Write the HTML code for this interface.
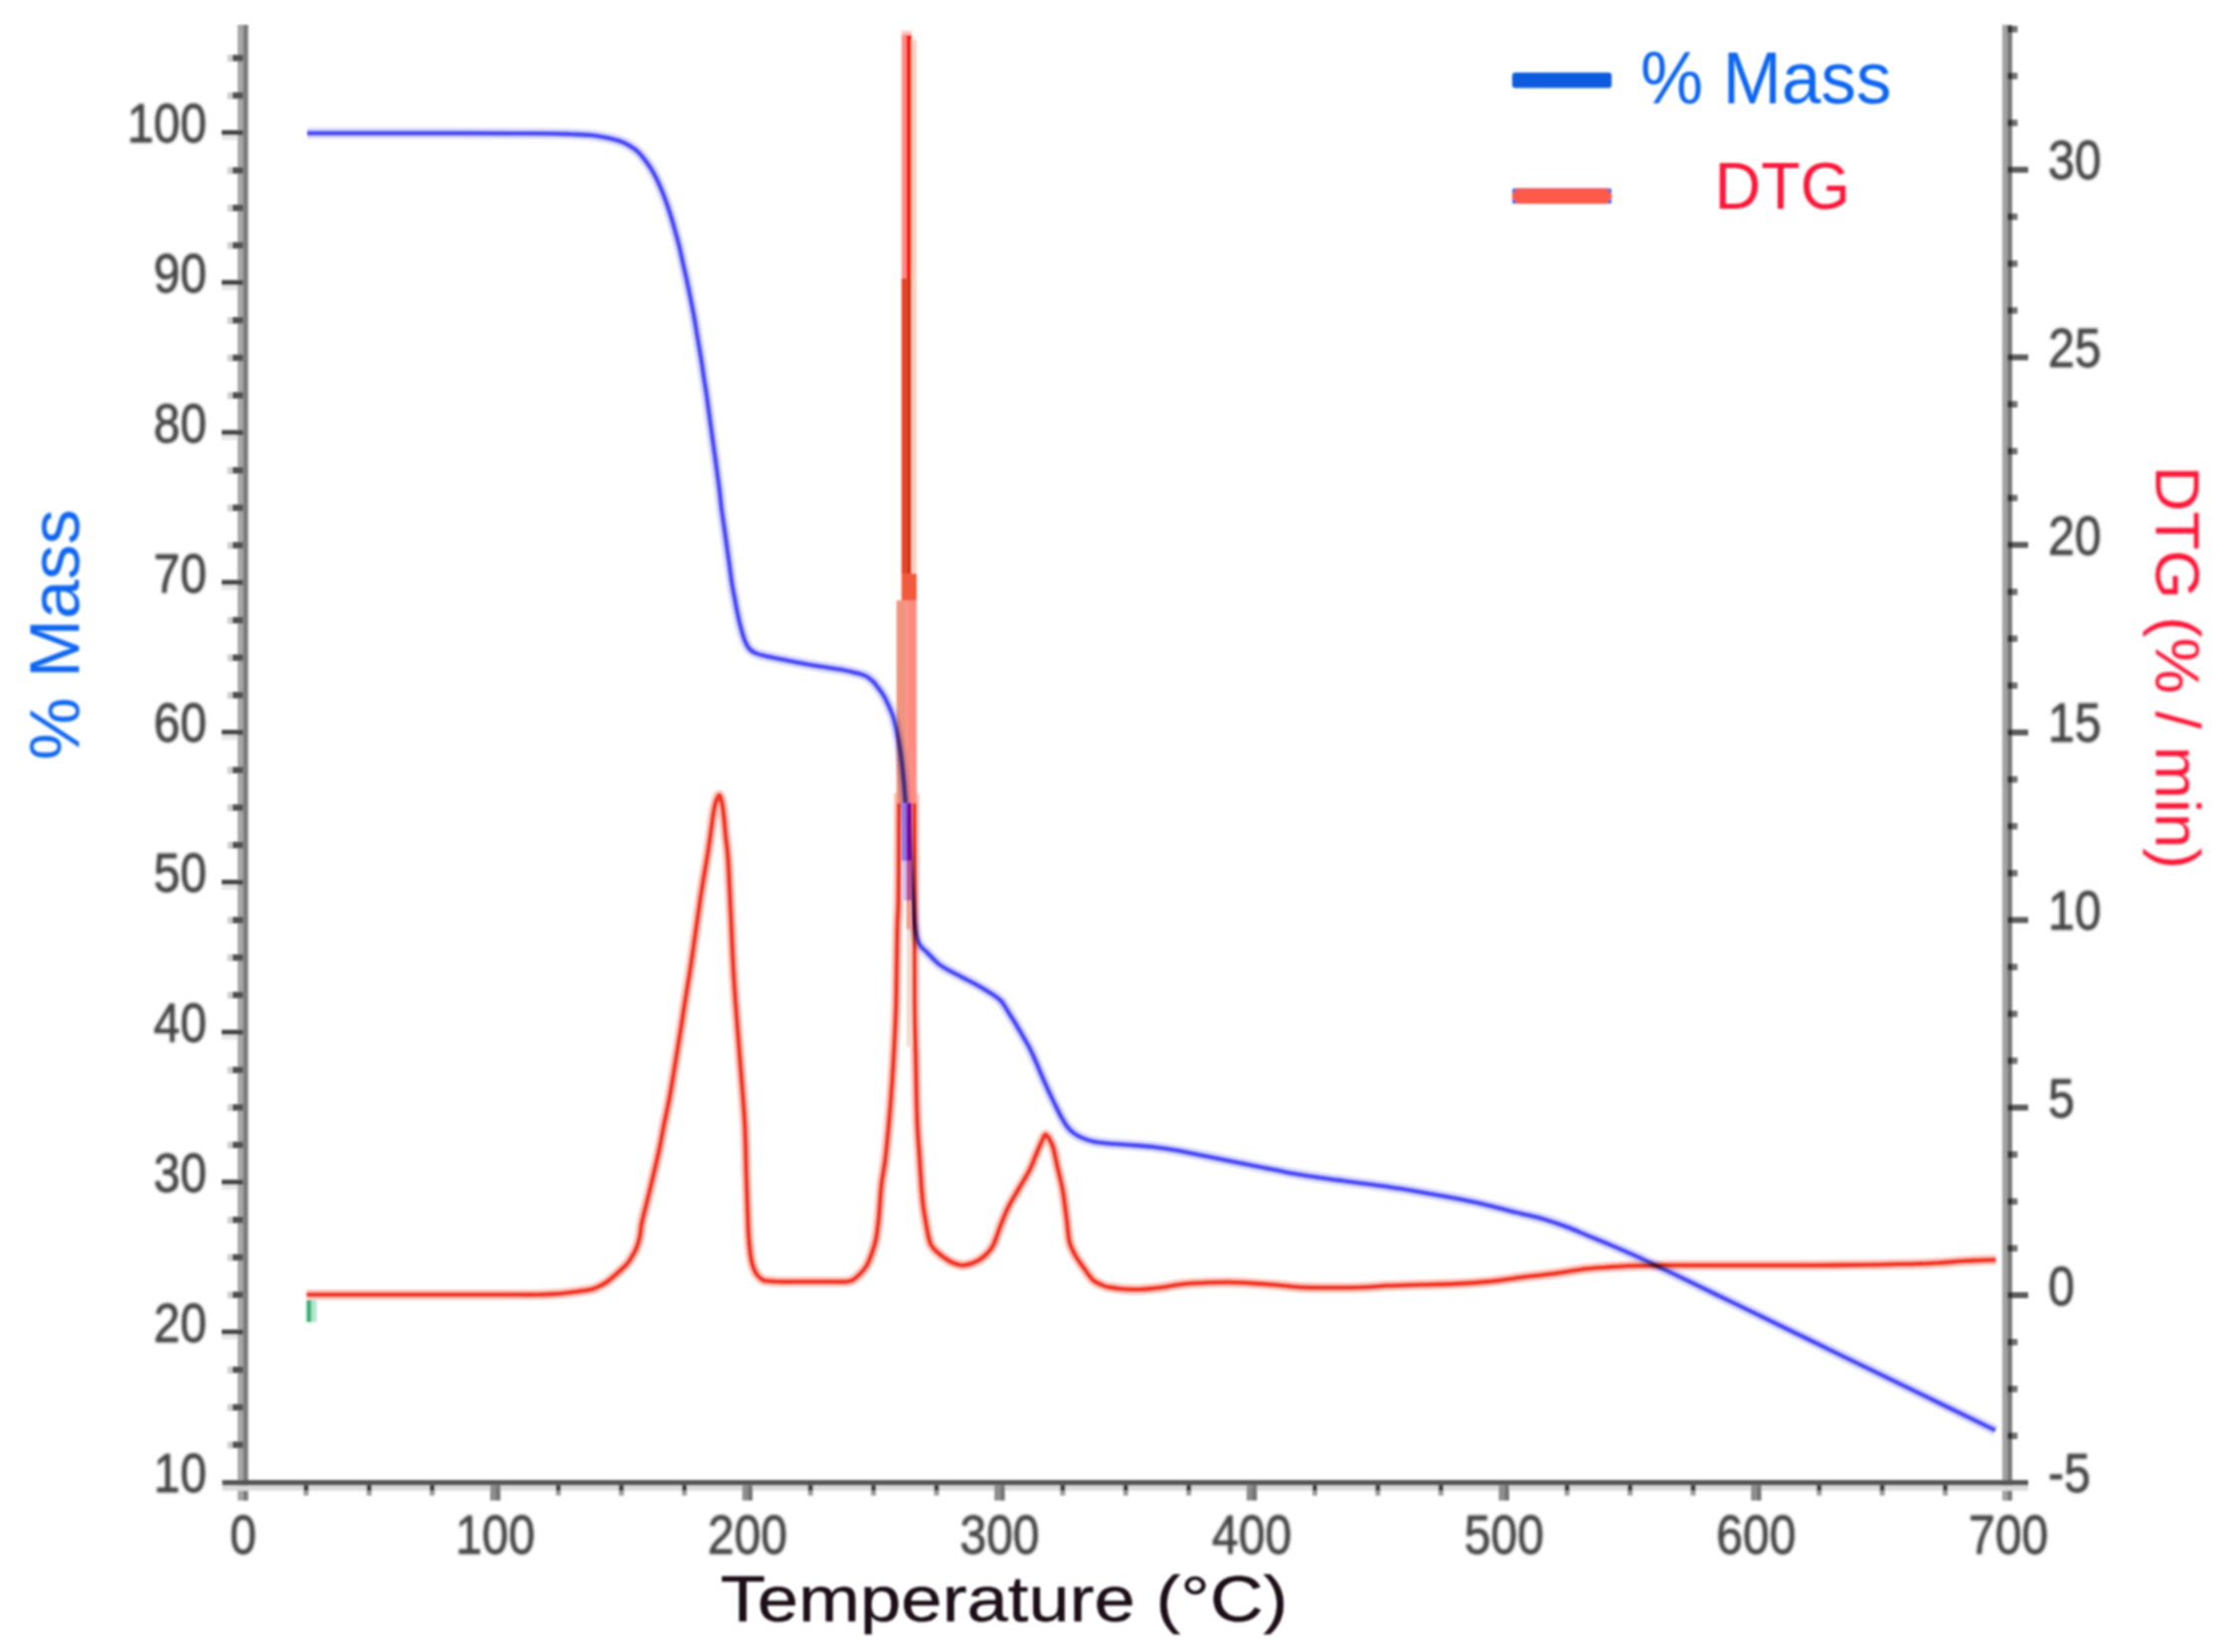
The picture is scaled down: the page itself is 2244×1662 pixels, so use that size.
<!DOCTYPE html>
<html lang="en"><head><meta charset="utf-8"><title>TGA / DTG curves</title>
<style>html,body{margin:0;padding:0;background:#fff;}body{width:2244px;height:1662px;overflow:hidden;}svg{display:block;}text{font-family:"Liberation Sans",sans-serif;}</style>
</head><body>
<svg width="2244" height="1662" viewBox="0 0 2244 1662">
<defs><filter id="b" x="-5%" y="-5%" width="110%" height="110%"><feGaussianBlur stdDeviation="1.6"/></filter><filter id="b2" x="-5%" y="-5%" width="110%" height="110%"><feGaussianBlur stdDeviation="1.2"/></filter><filter id="b3" x="-5%" y="-5%" width="110%" height="110%"><feGaussianBlur stdDeviation="0.9"/></filter></defs>
<rect width="2244" height="1662" fill="#fff"/>
<g filter="url(#b2)" fill="none" stroke-linejoin="round" stroke-linecap="butt">
<path d="M309.0,134.0 C329.2,134.0 391.5,133.9 430.0,134.0 C468.5,134.1 515.8,134.1 540.0,134.3 C564.2,134.5 565.9,134.7 575.0,135.0 C584.1,135.3 588.7,135.4 594.5,136.0 C600.3,136.6 605.1,137.5 610.0,138.5 C614.9,139.5 619.8,140.7 623.6,142.0 C627.4,143.3 630.0,144.7 633.0,146.5 C636.0,148.3 639.2,150.4 641.7,152.7 C644.2,154.9 645.9,157.3 648.0,160.0 C650.1,162.7 652.4,165.8 654.4,169.0 C656.4,172.2 658.2,175.4 660.0,179.0 C661.8,182.6 663.6,186.8 665.3,190.8 C667.0,194.8 668.5,198.8 670.0,203.0 C671.5,207.2 672.9,211.5 674.4,216.3 C675.9,221.1 677.5,226.6 679.0,232.0 C680.5,237.4 682.2,243.5 683.5,249.0 C684.8,254.5 685.8,259.6 687.0,265.0 C688.2,270.4 689.5,275.9 690.8,281.7 C692.0,287.5 693.3,293.9 694.5,300.0 C695.7,306.1 696.8,311.5 698.0,318.0 C699.2,324.5 700.3,331.7 701.5,339.0 C702.7,346.3 704.2,354.8 705.3,361.6 C706.4,368.4 707.1,373.9 708.0,380.0 C708.9,386.1 709.9,391.7 710.8,398.0 C711.7,404.3 712.6,411.3 713.5,418.0 C714.4,424.7 715.3,431.3 716.2,438.0 C717.1,444.7 718.1,451.3 719.0,458.0 C719.9,464.7 720.9,471.7 721.7,478.0 C722.5,484.3 723.3,490.0 724.0,496.0 C724.7,502.0 725.2,508.2 726.0,514.0 C726.8,519.8 727.7,525.5 728.5,531.0 C729.3,536.5 729.9,541.0 730.7,547.0 C731.5,553.0 732.6,560.3 733.5,567.0 C734.4,573.7 735.3,581.2 736.2,587.0 C737.1,592.8 738.1,597.2 739.0,602.0 C739.9,606.8 740.7,611.7 741.6,616.0 C742.5,620.3 743.4,624.3 744.3,628.0 C745.2,631.7 746.0,634.9 747.0,638.0 C748.0,641.1 748.8,643.9 750.0,646.5 C751.2,649.1 752.6,651.7 754.4,653.5 C756.2,655.3 758.4,656.4 761.0,657.5 C763.6,658.6 765.7,659.0 770.0,660.0 C774.3,661.0 781.2,662.3 787.0,663.5 C792.8,664.7 798.7,665.8 805.0,667.0 C811.3,668.2 818.3,669.4 825.0,670.5 C831.7,671.6 839.3,672.5 845.0,673.5 C850.7,674.5 854.7,675.4 859.0,676.5 C863.3,677.6 867.4,678.5 870.6,680.0 C873.8,681.5 875.9,683.5 878.0,685.5 C880.1,687.5 881.6,689.8 883.3,692.0 C885.0,694.2 886.5,696.2 888.0,698.5 C889.5,700.8 890.3,702.4 892.0,706.0 C893.7,709.6 896.3,715.0 898.0,720.0 C899.7,725.0 900.7,730.0 902.0,736.0 C903.3,742.0 904.5,748.7 905.6,756.0 C906.7,763.3 907.6,771.7 908.5,780.0 C909.4,788.3 910.0,797.5 910.7,806.0 C911.5,814.5 912.3,822.3 913.0,831.0 C913.7,839.7 914.4,849.5 915.0,858.0 C915.6,866.5 916.2,874.0 916.7,882.0 C917.2,890.0 917.8,898.5 918.3,906.0 C918.8,913.5 919.2,921.3 919.7,927.0 C920.2,932.7 920.8,936.5 921.5,940.0 C922.2,943.5 922.9,945.8 923.8,948.0 C924.7,950.2 925.7,951.4 927.0,953.0 C928.3,954.6 930.0,955.7 931.8,957.5 C933.6,959.3 935.8,961.8 938.0,964.0 C940.2,966.2 942.2,968.4 945.0,970.5 C947.8,972.6 951.4,974.5 955.0,976.5 C958.6,978.5 962.2,980.3 966.4,982.5 C970.6,984.7 975.6,987.1 980.0,989.5 C984.4,991.9 989.7,995.0 993.0,997.0 C996.3,999.0 997.8,999.9 1000.0,1001.5 C1002.2,1003.1 1004.6,1004.8 1006.4,1006.5 C1008.1,1008.2 1009.2,1010.0 1010.5,1012.0 C1011.8,1014.0 1012.9,1016.1 1014.4,1018.5 C1015.9,1020.9 1017.7,1023.6 1019.5,1026.5 C1021.3,1029.4 1023.2,1032.8 1025.0,1035.8 C1026.8,1038.8 1028.2,1041.4 1030.0,1044.5 C1031.8,1047.6 1033.9,1050.9 1035.7,1054.5 C1037.5,1058.1 1039.2,1062.0 1041.0,1066.0 C1042.8,1070.0 1044.5,1074.4 1046.3,1078.5 C1048.0,1082.6 1049.7,1086.5 1051.5,1090.5 C1053.3,1094.5 1055.2,1098.7 1057.0,1102.5 C1058.8,1106.3 1060.4,1109.8 1062.2,1113.4 C1064.0,1117.0 1065.7,1120.7 1067.6,1124.0 C1069.5,1127.3 1071.3,1130.8 1073.4,1133.5 C1075.5,1136.2 1077.4,1138.1 1080.0,1140.0 C1082.6,1141.9 1085.7,1143.6 1089.0,1145.0 C1092.3,1146.4 1095.5,1147.6 1100.0,1148.5 C1104.5,1149.4 1109.7,1149.9 1116.0,1150.5 C1122.3,1151.1 1130.5,1151.4 1138.0,1152.0 C1145.5,1152.6 1154.2,1153.2 1160.9,1154.0 C1167.6,1154.8 1172.4,1155.6 1178.0,1156.5 C1183.6,1157.4 1188.0,1158.2 1194.5,1159.5 C1201.0,1160.8 1209.5,1162.5 1217.0,1164.0 C1224.5,1165.5 1231.8,1167.0 1239.3,1168.5 C1246.8,1170.0 1254.5,1171.5 1262.0,1173.0 C1269.5,1174.5 1276.7,1175.9 1284.0,1177.3 C1291.3,1178.7 1298.5,1180.2 1306.0,1181.5 C1313.5,1182.8 1321.5,1183.9 1329.0,1185.0 C1336.5,1186.1 1343.5,1187.0 1351.0,1188.0 C1358.5,1189.0 1366.3,1190.0 1373.8,1191.0 C1381.3,1192.0 1388.5,1192.9 1396.0,1194.0 C1403.5,1195.1 1411.1,1196.2 1418.6,1197.5 C1426.1,1198.8 1433.5,1200.2 1441.0,1201.5 C1448.5,1202.8 1455.9,1204.1 1463.4,1205.5 C1470.9,1206.9 1478.5,1208.3 1486.0,1210.0 C1493.5,1211.7 1500.9,1213.7 1508.2,1215.5 C1515.5,1217.3 1522.5,1219.2 1530.0,1221.0 C1537.5,1222.8 1545.5,1224.4 1553.0,1226.6 C1560.5,1228.8 1567.7,1231.3 1575.0,1234.0 C1582.3,1236.7 1589.1,1239.8 1596.8,1243.0 C1604.5,1246.2 1612.9,1249.6 1621.0,1253.0 C1629.1,1256.4 1637.2,1259.9 1645.2,1263.5 C1653.2,1267.1 1660.9,1271.0 1669.0,1274.8 C1677.1,1278.6 1681.4,1280.6 1693.6,1286.5 C1705.8,1292.4 1725.8,1302.2 1742.0,1310.0 C1758.2,1317.8 1774.3,1325.7 1790.5,1333.6 C1806.7,1341.5 1822.8,1349.3 1838.9,1357.2 C1855.0,1365.1 1871.2,1373.0 1887.3,1380.8 C1903.4,1388.6 1919.6,1396.5 1935.7,1404.3 C1951.8,1412.1 1972.1,1422.0 1984.0,1427.8 C1995.9,1433.6 2003.2,1437.1 2007.0,1439.0" stroke="#9c9cff" stroke-width="11" opacity="0.38"/>
<path d="M309.0,134.0 C329.2,134.0 391.5,133.9 430.0,134.0 C468.5,134.1 515.8,134.1 540.0,134.3 C564.2,134.5 565.9,134.7 575.0,135.0 C584.1,135.3 588.7,135.4 594.5,136.0 C600.3,136.6 605.1,137.5 610.0,138.5 C614.9,139.5 619.8,140.7 623.6,142.0 C627.4,143.3 630.0,144.7 633.0,146.5 C636.0,148.3 639.2,150.4 641.7,152.7 C644.2,154.9 645.9,157.3 648.0,160.0 C650.1,162.7 652.4,165.8 654.4,169.0 C656.4,172.2 658.2,175.4 660.0,179.0 C661.8,182.6 663.6,186.8 665.3,190.8 C667.0,194.8 668.5,198.8 670.0,203.0 C671.5,207.2 672.9,211.5 674.4,216.3 C675.9,221.1 677.5,226.6 679.0,232.0 C680.5,237.4 682.2,243.5 683.5,249.0 C684.8,254.5 685.8,259.6 687.0,265.0 C688.2,270.4 689.5,275.9 690.8,281.7 C692.0,287.5 693.3,293.9 694.5,300.0 C695.7,306.1 696.8,311.5 698.0,318.0 C699.2,324.5 700.3,331.7 701.5,339.0 C702.7,346.3 704.2,354.8 705.3,361.6 C706.4,368.4 707.1,373.9 708.0,380.0 C708.9,386.1 709.9,391.7 710.8,398.0 C711.7,404.3 712.6,411.3 713.5,418.0 C714.4,424.7 715.3,431.3 716.2,438.0 C717.1,444.7 718.1,451.3 719.0,458.0 C719.9,464.7 720.9,471.7 721.7,478.0 C722.5,484.3 723.3,490.0 724.0,496.0 C724.7,502.0 725.2,508.2 726.0,514.0 C726.8,519.8 727.7,525.5 728.5,531.0 C729.3,536.5 729.9,541.0 730.7,547.0 C731.5,553.0 732.6,560.3 733.5,567.0 C734.4,573.7 735.3,581.2 736.2,587.0 C737.1,592.8 738.1,597.2 739.0,602.0 C739.9,606.8 740.7,611.7 741.6,616.0 C742.5,620.3 743.4,624.3 744.3,628.0 C745.2,631.7 746.0,634.9 747.0,638.0 C748.0,641.1 748.8,643.9 750.0,646.5 C751.2,649.1 752.6,651.7 754.4,653.5 C756.2,655.3 758.4,656.4 761.0,657.5 C763.6,658.6 765.7,659.0 770.0,660.0 C774.3,661.0 781.2,662.3 787.0,663.5 C792.8,664.7 798.7,665.8 805.0,667.0 C811.3,668.2 818.3,669.4 825.0,670.5 C831.7,671.6 839.3,672.5 845.0,673.5 C850.7,674.5 854.7,675.4 859.0,676.5 C863.3,677.6 867.4,678.5 870.6,680.0 C873.8,681.5 875.9,683.5 878.0,685.5 C880.1,687.5 881.6,689.8 883.3,692.0 C885.0,694.2 886.5,696.2 888.0,698.5 C889.5,700.8 890.3,702.4 892.0,706.0 C893.7,709.6 896.3,715.0 898.0,720.0 C899.7,725.0 900.7,730.0 902.0,736.0 C903.3,742.0 904.5,748.7 905.6,756.0 C906.7,763.3 907.6,771.7 908.5,780.0 C909.4,788.3 910.0,797.5 910.7,806.0 C911.5,814.5 912.3,822.3 913.0,831.0 C913.7,839.7 914.4,849.5 915.0,858.0 C915.6,866.5 916.2,874.0 916.7,882.0 C917.2,890.0 917.8,898.5 918.3,906.0 C918.8,913.5 919.2,921.3 919.7,927.0 C920.2,932.7 920.8,936.5 921.5,940.0 C922.2,943.5 922.9,945.8 923.8,948.0 C924.7,950.2 925.7,951.4 927.0,953.0 C928.3,954.6 930.0,955.7 931.8,957.5 C933.6,959.3 935.8,961.8 938.0,964.0 C940.2,966.2 942.2,968.4 945.0,970.5 C947.8,972.6 951.4,974.5 955.0,976.5 C958.6,978.5 962.2,980.3 966.4,982.5 C970.6,984.7 975.6,987.1 980.0,989.5 C984.4,991.9 989.7,995.0 993.0,997.0 C996.3,999.0 997.8,999.9 1000.0,1001.5 C1002.2,1003.1 1004.6,1004.8 1006.4,1006.5 C1008.1,1008.2 1009.2,1010.0 1010.5,1012.0 C1011.8,1014.0 1012.9,1016.1 1014.4,1018.5 C1015.9,1020.9 1017.7,1023.6 1019.5,1026.5 C1021.3,1029.4 1023.2,1032.8 1025.0,1035.8 C1026.8,1038.8 1028.2,1041.4 1030.0,1044.5 C1031.8,1047.6 1033.9,1050.9 1035.7,1054.5 C1037.5,1058.1 1039.2,1062.0 1041.0,1066.0 C1042.8,1070.0 1044.5,1074.4 1046.3,1078.5 C1048.0,1082.6 1049.7,1086.5 1051.5,1090.5 C1053.3,1094.5 1055.2,1098.7 1057.0,1102.5 C1058.8,1106.3 1060.4,1109.8 1062.2,1113.4 C1064.0,1117.0 1065.7,1120.7 1067.6,1124.0 C1069.5,1127.3 1071.3,1130.8 1073.4,1133.5 C1075.5,1136.2 1077.4,1138.1 1080.0,1140.0 C1082.6,1141.9 1085.7,1143.6 1089.0,1145.0 C1092.3,1146.4 1095.5,1147.6 1100.0,1148.5 C1104.5,1149.4 1109.7,1149.9 1116.0,1150.5 C1122.3,1151.1 1130.5,1151.4 1138.0,1152.0 C1145.5,1152.6 1154.2,1153.2 1160.9,1154.0 C1167.6,1154.8 1172.4,1155.6 1178.0,1156.5 C1183.6,1157.4 1188.0,1158.2 1194.5,1159.5 C1201.0,1160.8 1209.5,1162.5 1217.0,1164.0 C1224.5,1165.5 1231.8,1167.0 1239.3,1168.5 C1246.8,1170.0 1254.5,1171.5 1262.0,1173.0 C1269.5,1174.5 1276.7,1175.9 1284.0,1177.3 C1291.3,1178.7 1298.5,1180.2 1306.0,1181.5 C1313.5,1182.8 1321.5,1183.9 1329.0,1185.0 C1336.5,1186.1 1343.5,1187.0 1351.0,1188.0 C1358.5,1189.0 1366.3,1190.0 1373.8,1191.0 C1381.3,1192.0 1388.5,1192.9 1396.0,1194.0 C1403.5,1195.1 1411.1,1196.2 1418.6,1197.5 C1426.1,1198.8 1433.5,1200.2 1441.0,1201.5 C1448.5,1202.8 1455.9,1204.1 1463.4,1205.5 C1470.9,1206.9 1478.5,1208.3 1486.0,1210.0 C1493.5,1211.7 1500.9,1213.7 1508.2,1215.5 C1515.5,1217.3 1522.5,1219.2 1530.0,1221.0 C1537.5,1222.8 1545.5,1224.4 1553.0,1226.6 C1560.5,1228.8 1567.7,1231.3 1575.0,1234.0 C1582.3,1236.7 1589.1,1239.8 1596.8,1243.0 C1604.5,1246.2 1612.9,1249.6 1621.0,1253.0 C1629.1,1256.4 1637.2,1259.9 1645.2,1263.5 C1653.2,1267.1 1660.9,1271.0 1669.0,1274.8 C1677.1,1278.6 1681.4,1280.6 1693.6,1286.5 C1705.8,1292.4 1725.8,1302.2 1742.0,1310.0 C1758.2,1317.8 1774.3,1325.7 1790.5,1333.6 C1806.7,1341.5 1822.8,1349.3 1838.9,1357.2 C1855.0,1365.1 1871.2,1373.0 1887.3,1380.8 C1903.4,1388.6 1919.6,1396.5 1935.7,1404.3 C1951.8,1412.1 1972.1,1422.0 1984.0,1427.8 C1995.9,1433.6 2003.2,1437.1 2007.0,1439.0" stroke="#4c4cf8" stroke-width="4.6"/>
</g>
<g filter="url(#b2)" fill="none" stroke-linejoin="round" stroke-linecap="butt" style="mix-blend-mode:multiply">
<path d="M308.5,1302.5 C323.8,1302.5 368.1,1302.5 400.0,1302.5 C431.9,1302.5 476.7,1302.5 500.0,1302.5 C523.3,1302.5 529.5,1302.7 540.0,1302.5 C550.5,1302.3 556.3,1302.0 563.0,1301.5 C569.7,1301.0 574.9,1300.2 580.0,1299.5 C585.1,1298.8 590.0,1298.2 593.5,1297.5 C597.0,1296.8 598.0,1296.2 600.7,1295.0 C603.5,1293.8 607.0,1292.0 610.0,1290.0 C613.0,1288.0 615.6,1285.6 618.6,1283.0 C621.6,1280.4 625.4,1276.9 627.8,1274.5 C630.2,1272.1 631.0,1271.6 633.0,1268.5 C635.0,1265.4 638.2,1260.2 640.0,1256.0 C641.8,1251.8 642.8,1247.7 643.7,1243.5 C644.6,1239.3 644.0,1237.8 645.4,1231.0 C646.8,1224.2 650.4,1210.8 652.4,1202.5 C654.4,1194.2 655.7,1188.6 657.5,1181.0 C659.3,1173.4 661.2,1165.3 663.0,1157.0 C664.8,1148.7 666.2,1139.8 668.0,1131.0 C669.8,1122.2 671.4,1115.5 673.5,1104.0 C675.6,1092.5 678.6,1073.7 680.5,1062.0 C682.4,1050.3 683.5,1043.3 685.0,1034.0 C686.5,1024.7 687.8,1015.5 689.3,1006.0 C690.8,996.5 692.5,986.4 694.0,977.0 C695.5,967.6 696.8,958.2 698.0,949.5 C699.2,940.8 700.3,933.2 701.5,925.0 C702.7,916.8 703.8,908.2 705.0,900.5 C706.2,892.8 707.3,886.1 708.5,879.0 C709.7,871.9 710.9,865.0 712.0,858.0 C713.1,851.0 714.1,843.3 715.0,837.0 C715.9,830.7 716.5,825.0 717.3,820.0 C718.1,815.0 719.0,810.3 720.0,807.0 C721.0,803.7 722.3,800.0 723.3,800.0 C724.3,800.0 725.2,803.7 726.0,807.0 C726.8,810.3 727.2,814.2 727.9,820.0 C728.6,825.8 729.2,834.4 730.0,842.0 C730.8,849.6 731.6,852.8 732.4,865.5 C733.2,878.2 734.0,897.6 735.0,918.0 C736.0,938.4 736.9,964.6 738.4,988.0 C739.9,1011.4 741.9,1035.1 743.7,1058.5 C745.5,1081.9 747.8,1108.0 749.0,1128.5 C750.2,1149.0 750.1,1163.9 750.7,1181.5 C751.3,1199.1 752.0,1221.8 752.5,1234.0 C753.0,1246.2 753.4,1249.2 754.0,1255.0 C754.6,1260.8 755.2,1265.3 756.0,1269.0 C756.8,1272.7 757.6,1274.8 758.5,1277.0 C759.4,1279.2 760.1,1280.5 761.2,1282.0 C762.3,1283.5 763.5,1284.9 765.0,1286.0 C766.5,1287.1 766.7,1287.9 770.0,1288.5 C773.3,1289.1 779.2,1289.3 785.0,1289.5 C790.8,1289.7 797.5,1289.5 805.0,1289.5 C812.5,1289.5 822.5,1289.5 830.0,1289.5 C837.5,1289.5 845.5,1289.8 850.0,1289.5 C854.5,1289.2 854.7,1289.3 857.2,1288.0 C859.7,1286.7 862.8,1284.0 865.2,1281.5 C867.7,1279.0 869.9,1276.6 871.9,1273.0 C873.9,1269.4 875.7,1264.5 877.2,1260.0 C878.8,1255.5 880.1,1251.8 881.2,1246.0 C882.3,1240.2 883.0,1233.8 883.9,1225.0 C884.8,1216.2 885.4,1202.8 886.5,1193.0 C887.6,1183.2 889.4,1174.9 890.5,1166.0 C891.6,1157.1 892.3,1148.8 893.2,1139.5 C894.1,1130.2 894.9,1121.6 895.8,1110.0 C896.7,1098.4 897.6,1085.9 898.5,1070.0 C899.4,1054.1 900.5,1036.7 901.2,1014.5 C901.9,992.3 902.1,956.1 902.5,937.0 C902.9,917.9 903.5,920.8 903.8,900.0 C904.1,879.2 904.1,829.0 904.2,812.0 C904.3,795.0 904.2,800.3 904.2,798.0" stroke="#ff9a8c" stroke-width="10.5" opacity="0.55"/>
<path d="M919.6,798.0 C919.6,800.3 919.6,795.0 919.6,812.0 C919.6,829.0 919.8,867.6 919.8,900.0 C919.8,932.4 919.6,979.8 919.8,1006.5 C920.0,1033.2 920.5,1040.1 921.0,1060.0 C921.5,1079.9 921.8,1108.3 922.5,1126.0 C923.2,1143.7 924.1,1152.7 925.0,1166.0 C925.9,1179.3 926.7,1194.8 927.8,1206.0 C928.9,1217.2 930.5,1225.5 931.8,1233.0 C933.1,1240.5 934.0,1246.6 935.8,1251.0 C937.6,1255.4 939.6,1256.8 942.5,1259.5 C945.4,1262.2 950.1,1265.6 953.0,1267.5 C955.9,1269.4 957.5,1270.1 960.0,1271.0 C962.5,1271.9 965.0,1272.9 967.7,1273.0 C970.4,1273.1 973.1,1272.4 976.0,1271.5 C978.9,1270.6 982.3,1269.1 985.0,1267.5 C987.7,1265.9 989.8,1264.2 992.0,1262.0 C994.2,1259.8 996.6,1257.0 998.4,1254.0 C1000.1,1251.0 1001.2,1247.5 1002.5,1244.0 C1003.8,1240.5 1004.4,1238.0 1006.4,1233.0 C1008.4,1228.0 1011.3,1220.2 1014.4,1214.0 C1017.5,1207.8 1021.5,1201.7 1025.0,1195.5 C1028.5,1189.3 1032.6,1183.2 1035.7,1177.0 C1038.8,1170.8 1041.5,1162.8 1043.6,1158.0 C1045.6,1153.2 1046.7,1150.8 1048.0,1148.0 C1049.3,1145.2 1050.3,1141.8 1051.6,1141.5 C1052.8,1141.2 1054.2,1143.7 1055.5,1146.0 C1056.8,1148.3 1058.2,1150.8 1059.6,1155.5 C1060.9,1160.2 1062.0,1166.9 1063.6,1174.0 C1065.2,1181.1 1067.4,1189.1 1069.0,1198.0 C1070.6,1206.9 1071.9,1219.0 1073.0,1227.5 C1074.1,1236.0 1074.3,1243.2 1075.6,1249.0 C1076.9,1254.8 1078.6,1257.6 1081.0,1262.0 C1083.4,1266.4 1086.9,1271.2 1090.0,1275.5 C1093.1,1279.8 1096.3,1285.0 1099.6,1288.0 C1102.9,1291.0 1107.3,1292.3 1110.0,1293.5 C1112.7,1294.7 1113.3,1294.5 1116.0,1295.0 C1118.7,1295.5 1122.3,1296.1 1126.0,1296.5 C1129.7,1296.9 1134.4,1297.1 1138.4,1297.2 C1142.4,1297.3 1146.2,1297.2 1150.0,1297.0 C1153.8,1296.8 1157.6,1296.3 1160.9,1296.0 C1164.2,1295.7 1166.3,1295.5 1170.0,1295.0 C1173.7,1294.5 1178.3,1293.4 1183.3,1292.7 C1188.3,1292.0 1194.4,1291.4 1200.0,1291.0 C1205.6,1290.6 1211.2,1290.5 1217.0,1290.3 C1222.8,1290.1 1229.4,1290.0 1235.0,1290.0 C1240.6,1290.0 1242.3,1290.0 1250.5,1290.5 C1258.7,1291.0 1274.7,1292.0 1284.0,1292.7 C1293.3,1293.5 1297.2,1294.5 1306.5,1295.0 C1315.8,1295.5 1328.8,1295.5 1340.0,1295.5 C1351.2,1295.5 1364.5,1295.3 1373.8,1295.0 C1383.1,1294.7 1386.6,1293.9 1396.0,1293.5 C1405.4,1293.1 1418.8,1292.8 1430.0,1292.5 C1441.2,1292.2 1452.2,1292.1 1463.4,1291.6 C1474.6,1291.1 1485.8,1290.5 1497.0,1289.4 C1508.2,1288.3 1521.3,1286.2 1530.6,1285.0 C1539.9,1283.8 1545.6,1283.4 1553.0,1282.5 C1560.4,1281.6 1568.0,1280.5 1575.0,1279.5 C1582.0,1278.5 1588.3,1277.2 1595.0,1276.5 C1601.7,1275.8 1607.5,1275.5 1615.0,1275.0 C1622.5,1274.5 1629.9,1273.8 1640.0,1273.5 C1650.1,1273.2 1662.2,1273.1 1675.5,1273.0 C1688.8,1272.9 1703.2,1273.0 1720.0,1273.0 C1736.8,1273.0 1758.3,1273.0 1776.0,1273.0 C1793.7,1273.0 1809.2,1273.1 1826.0,1273.0 C1842.8,1272.9 1864.4,1272.7 1876.7,1272.5 C1889.0,1272.3 1891.6,1272.2 1900.0,1272.0 C1908.4,1271.8 1918.7,1271.8 1927.0,1271.5 C1935.3,1271.2 1941.7,1271.0 1950.0,1270.5 C1958.3,1270.0 1970.3,1268.9 1977.0,1268.5 C1983.7,1268.1 1984.9,1268.2 1990.0,1268.0 C1995.1,1267.8 2004.6,1267.6 2007.5,1267.5" stroke="#ff9a8c" stroke-width="10.5" opacity="0.55"/>
<path d="M308.5,1302.5 C323.8,1302.5 368.1,1302.5 400.0,1302.5 C431.9,1302.5 476.7,1302.5 500.0,1302.5 C523.3,1302.5 529.5,1302.7 540.0,1302.5 C550.5,1302.3 556.3,1302.0 563.0,1301.5 C569.7,1301.0 574.9,1300.2 580.0,1299.5 C585.1,1298.8 590.0,1298.2 593.5,1297.5 C597.0,1296.8 598.0,1296.2 600.7,1295.0 C603.5,1293.8 607.0,1292.0 610.0,1290.0 C613.0,1288.0 615.6,1285.6 618.6,1283.0 C621.6,1280.4 625.4,1276.9 627.8,1274.5 C630.2,1272.1 631.0,1271.6 633.0,1268.5 C635.0,1265.4 638.2,1260.2 640.0,1256.0 C641.8,1251.8 642.8,1247.7 643.7,1243.5 C644.6,1239.3 644.0,1237.8 645.4,1231.0 C646.8,1224.2 650.4,1210.8 652.4,1202.5 C654.4,1194.2 655.7,1188.6 657.5,1181.0 C659.3,1173.4 661.2,1165.3 663.0,1157.0 C664.8,1148.7 666.2,1139.8 668.0,1131.0 C669.8,1122.2 671.4,1115.5 673.5,1104.0 C675.6,1092.5 678.6,1073.7 680.5,1062.0 C682.4,1050.3 683.5,1043.3 685.0,1034.0 C686.5,1024.7 687.8,1015.5 689.3,1006.0 C690.8,996.5 692.5,986.4 694.0,977.0 C695.5,967.6 696.8,958.2 698.0,949.5 C699.2,940.8 700.3,933.2 701.5,925.0 C702.7,916.8 703.8,908.2 705.0,900.5 C706.2,892.8 707.3,886.1 708.5,879.0 C709.7,871.9 710.9,865.0 712.0,858.0 C713.1,851.0 714.1,843.3 715.0,837.0 C715.9,830.7 716.5,825.0 717.3,820.0 C718.1,815.0 719.0,810.3 720.0,807.0 C721.0,803.7 722.3,800.0 723.3,800.0 C724.3,800.0 725.2,803.7 726.0,807.0 C726.8,810.3 727.2,814.2 727.9,820.0 C728.6,825.8 729.2,834.4 730.0,842.0 C730.8,849.6 731.6,852.8 732.4,865.5 C733.2,878.2 734.0,897.6 735.0,918.0 C736.0,938.4 736.9,964.6 738.4,988.0 C739.9,1011.4 741.9,1035.1 743.7,1058.5 C745.5,1081.9 747.8,1108.0 749.0,1128.5 C750.2,1149.0 750.1,1163.9 750.7,1181.5 C751.3,1199.1 752.0,1221.8 752.5,1234.0 C753.0,1246.2 753.4,1249.2 754.0,1255.0 C754.6,1260.8 755.2,1265.3 756.0,1269.0 C756.8,1272.7 757.6,1274.8 758.5,1277.0 C759.4,1279.2 760.1,1280.5 761.2,1282.0 C762.3,1283.5 763.5,1284.9 765.0,1286.0 C766.5,1287.1 766.7,1287.9 770.0,1288.5 C773.3,1289.1 779.2,1289.3 785.0,1289.5 C790.8,1289.7 797.5,1289.5 805.0,1289.5 C812.5,1289.5 822.5,1289.5 830.0,1289.5 C837.5,1289.5 845.5,1289.8 850.0,1289.5 C854.5,1289.2 854.7,1289.3 857.2,1288.0 C859.7,1286.7 862.8,1284.0 865.2,1281.5 C867.7,1279.0 869.9,1276.6 871.9,1273.0 C873.9,1269.4 875.7,1264.5 877.2,1260.0 C878.8,1255.5 880.1,1251.8 881.2,1246.0 C882.3,1240.2 883.0,1233.8 883.9,1225.0 C884.8,1216.2 885.4,1202.8 886.5,1193.0 C887.6,1183.2 889.4,1174.9 890.5,1166.0 C891.6,1157.1 892.3,1148.8 893.2,1139.5 C894.1,1130.2 894.9,1121.6 895.8,1110.0 C896.7,1098.4 897.6,1085.9 898.5,1070.0 C899.4,1054.1 900.5,1036.7 901.2,1014.5 C901.9,992.3 902.1,956.1 902.5,937.0 C902.9,917.9 903.5,920.8 903.8,900.0 C904.1,879.2 904.1,829.0 904.2,812.0 C904.3,795.0 904.2,800.3 904.2,798.0" stroke="#f23424" stroke-width="4.6"/>
<path d="M919.6,798.0 C919.6,800.3 919.6,795.0 919.6,812.0 C919.6,829.0 919.8,867.6 919.8,900.0 C919.8,932.4 919.6,979.8 919.8,1006.5 C920.0,1033.2 920.5,1040.1 921.0,1060.0 C921.5,1079.9 921.8,1108.3 922.5,1126.0 C923.2,1143.7 924.1,1152.7 925.0,1166.0 C925.9,1179.3 926.7,1194.8 927.8,1206.0 C928.9,1217.2 930.5,1225.5 931.8,1233.0 C933.1,1240.5 934.0,1246.6 935.8,1251.0 C937.6,1255.4 939.6,1256.8 942.5,1259.5 C945.4,1262.2 950.1,1265.6 953.0,1267.5 C955.9,1269.4 957.5,1270.1 960.0,1271.0 C962.5,1271.9 965.0,1272.9 967.7,1273.0 C970.4,1273.1 973.1,1272.4 976.0,1271.5 C978.9,1270.6 982.3,1269.1 985.0,1267.5 C987.7,1265.9 989.8,1264.2 992.0,1262.0 C994.2,1259.8 996.6,1257.0 998.4,1254.0 C1000.1,1251.0 1001.2,1247.5 1002.5,1244.0 C1003.8,1240.5 1004.4,1238.0 1006.4,1233.0 C1008.4,1228.0 1011.3,1220.2 1014.4,1214.0 C1017.5,1207.8 1021.5,1201.7 1025.0,1195.5 C1028.5,1189.3 1032.6,1183.2 1035.7,1177.0 C1038.8,1170.8 1041.5,1162.8 1043.6,1158.0 C1045.6,1153.2 1046.7,1150.8 1048.0,1148.0 C1049.3,1145.2 1050.3,1141.8 1051.6,1141.5 C1052.8,1141.2 1054.2,1143.7 1055.5,1146.0 C1056.8,1148.3 1058.2,1150.8 1059.6,1155.5 C1060.9,1160.2 1062.0,1166.9 1063.6,1174.0 C1065.2,1181.1 1067.4,1189.1 1069.0,1198.0 C1070.6,1206.9 1071.9,1219.0 1073.0,1227.5 C1074.1,1236.0 1074.3,1243.2 1075.6,1249.0 C1076.9,1254.8 1078.6,1257.6 1081.0,1262.0 C1083.4,1266.4 1086.9,1271.2 1090.0,1275.5 C1093.1,1279.8 1096.3,1285.0 1099.6,1288.0 C1102.9,1291.0 1107.3,1292.3 1110.0,1293.5 C1112.7,1294.7 1113.3,1294.5 1116.0,1295.0 C1118.7,1295.5 1122.3,1296.1 1126.0,1296.5 C1129.7,1296.9 1134.4,1297.1 1138.4,1297.2 C1142.4,1297.3 1146.2,1297.2 1150.0,1297.0 C1153.8,1296.8 1157.6,1296.3 1160.9,1296.0 C1164.2,1295.7 1166.3,1295.5 1170.0,1295.0 C1173.7,1294.5 1178.3,1293.4 1183.3,1292.7 C1188.3,1292.0 1194.4,1291.4 1200.0,1291.0 C1205.6,1290.6 1211.2,1290.5 1217.0,1290.3 C1222.8,1290.1 1229.4,1290.0 1235.0,1290.0 C1240.6,1290.0 1242.3,1290.0 1250.5,1290.5 C1258.7,1291.0 1274.7,1292.0 1284.0,1292.7 C1293.3,1293.5 1297.2,1294.5 1306.5,1295.0 C1315.8,1295.5 1328.8,1295.5 1340.0,1295.5 C1351.2,1295.5 1364.5,1295.3 1373.8,1295.0 C1383.1,1294.7 1386.6,1293.9 1396.0,1293.5 C1405.4,1293.1 1418.8,1292.8 1430.0,1292.5 C1441.2,1292.2 1452.2,1292.1 1463.4,1291.6 C1474.6,1291.1 1485.8,1290.5 1497.0,1289.4 C1508.2,1288.3 1521.3,1286.2 1530.6,1285.0 C1539.9,1283.8 1545.6,1283.4 1553.0,1282.5 C1560.4,1281.6 1568.0,1280.5 1575.0,1279.5 C1582.0,1278.5 1588.3,1277.2 1595.0,1276.5 C1601.7,1275.8 1607.5,1275.5 1615.0,1275.0 C1622.5,1274.5 1629.9,1273.8 1640.0,1273.5 C1650.1,1273.2 1662.2,1273.1 1675.5,1273.0 C1688.8,1272.9 1703.2,1273.0 1720.0,1273.0 C1736.8,1273.0 1758.3,1273.0 1776.0,1273.0 C1793.7,1273.0 1809.2,1273.1 1826.0,1273.0 C1842.8,1272.9 1864.4,1272.7 1876.7,1272.5 C1889.0,1272.3 1891.6,1272.2 1900.0,1272.0 C1908.4,1271.8 1918.7,1271.8 1927.0,1271.5 C1935.3,1271.2 1941.7,1271.0 1950.0,1270.5 C1958.3,1270.0 1970.3,1268.9 1977.0,1268.5 C1983.7,1268.1 1984.9,1268.2 1990.0,1268.0 C1995.1,1267.8 2004.6,1267.6 2007.5,1267.5" stroke="#f23424" stroke-width="4.6"/>
<rect x="911.8" y="935" width="5.4" height="118" fill="#f2dccf" stroke="none"/>
<g stroke="none">
<rect x="906.8" y="31" width="10" height="6" fill="#ffc4c0"/>
<rect x="906.8" y="35" width="5" height="245" fill="#ff8c8c"/>
<rect x="911.7" y="35" width="5.1" height="245" fill="#ff1800"/>
<rect x="916.8" y="40" width="5.2" height="537" fill="#f6d2c4"/>
<rect x="906.8" y="280" width="5" height="297" fill="#e84020"/>
<rect x="911.7" y="280" width="5.1" height="297" fill="#d23812"/>
<rect x="906.8" y="577" width="15.2" height="27" fill="#f25a3c"/>
<rect x="901.7" y="604" width="10" height="204" fill="#f0947e"/>
<rect x="911.7" y="604" width="10.3" height="204" fill="#ff8c82"/>
</g>
<rect x="308.4" y="1308" width="5" height="22" fill="#36b074" stroke="none"/>
<rect x="313.4" y="1308" width="5" height="22" fill="#b0e6cc" stroke="none"/>
</g>
<g filter="url(#b2)">
<rect x="906.8" y="808" width="5" height="58" fill="#9078e8"/>
<rect x="911.7" y="808" width="5.1" height="58" fill="#800098"/>
<rect x="906.8" y="866" width="5" height="40" fill="#d4c4f2"/>
<rect x="911.7" y="866" width="5.1" height="40" fill="#c04890"/>
<rect x="911.7" y="906" width="5.1" height="29" fill="#f29a8a"/>
</g>
<g filter="url(#b3)">
<rect x="239" y="25" width="5.3" height="1484.7" fill="#a6a6a6"/>
<rect x="244.3" y="25" width="5.3" height="1484.7" fill="#7a7a7a"/>
<rect x="2013.9" y="25" width="5.2" height="1484.7" fill="#a2a2a2"/>
<rect x="2019.1" y="25" width="4.8" height="1484.7" fill="#787878"/>
<rect x="223.5" y="1494.3999999999999" width="1816.5" height="5.4" fill="#dcdcdc"/>
<rect x="223.5" y="1489.0" width="1816.5" height="5.400000000000091" fill="#555"/>
<rect x="228.7" y="1450.3" width="5.1" height="7" fill="#d0d0d0"/>
<rect x="233.8" y="1450.3" width="10.5" height="6.5" fill="#505050"/>
<rect x="228.7" y="1412.6" width="5.1" height="7" fill="#d0d0d0"/>
<rect x="233.8" y="1412.6" width="10.5" height="6.5" fill="#505050"/>
<rect x="228.7" y="1374.8" width="5.1" height="7" fill="#d0d0d0"/>
<rect x="233.8" y="1374.8" width="10.5" height="6.5" fill="#505050"/>
<rect x="223" y="1337.5" width="21.3" height="5.2" fill="#444"/>
<rect x="223" y="1342.7" width="16" height="5" fill="#e6e6e6"/>
<rect x="228.7" y="1299.4" width="5.1" height="7" fill="#d0d0d0"/>
<rect x="233.8" y="1299.4" width="10.5" height="6.5" fill="#505050"/>
<rect x="228.7" y="1261.7" width="5.1" height="7" fill="#d0d0d0"/>
<rect x="233.8" y="1261.7" width="10.5" height="6.5" fill="#505050"/>
<rect x="228.7" y="1224.0" width="5.1" height="7" fill="#d0d0d0"/>
<rect x="233.8" y="1224.0" width="10.5" height="6.5" fill="#505050"/>
<rect x="223" y="1186.7" width="21.3" height="5.2" fill="#444"/>
<rect x="223" y="1191.9" width="16" height="5" fill="#e6e6e6"/>
<rect x="228.7" y="1148.6" width="5.1" height="7" fill="#d0d0d0"/>
<rect x="233.8" y="1148.6" width="10.5" height="6.5" fill="#505050"/>
<rect x="228.7" y="1110.9" width="5.1" height="7" fill="#d0d0d0"/>
<rect x="233.8" y="1110.9" width="10.5" height="6.5" fill="#505050"/>
<rect x="228.7" y="1073.2" width="5.1" height="7" fill="#d0d0d0"/>
<rect x="233.8" y="1073.2" width="10.5" height="6.5" fill="#505050"/>
<rect x="223" y="1035.9" width="21.3" height="5.2" fill="#444"/>
<rect x="223" y="1041.1" width="16" height="5" fill="#e6e6e6"/>
<rect x="228.7" y="997.8" width="5.1" height="7" fill="#d0d0d0"/>
<rect x="233.8" y="997.8" width="10.5" height="6.5" fill="#505050"/>
<rect x="228.7" y="960.1" width="5.1" height="7" fill="#d0d0d0"/>
<rect x="233.8" y="960.1" width="10.5" height="6.5" fill="#505050"/>
<rect x="228.7" y="922.4" width="5.1" height="7" fill="#d0d0d0"/>
<rect x="233.8" y="922.4" width="10.5" height="6.5" fill="#505050"/>
<rect x="223" y="885.0" width="21.3" height="5.2" fill="#444"/>
<rect x="223" y="890.2" width="16" height="5" fill="#e6e6e6"/>
<rect x="228.7" y="846.9" width="5.1" height="7" fill="#d0d0d0"/>
<rect x="233.8" y="846.9" width="10.5" height="6.5" fill="#505050"/>
<rect x="228.7" y="809.2" width="5.1" height="7" fill="#d0d0d0"/>
<rect x="233.8" y="809.2" width="10.5" height="6.5" fill="#505050"/>
<rect x="228.7" y="771.5" width="5.1" height="7" fill="#d0d0d0"/>
<rect x="233.8" y="771.5" width="10.5" height="6.5" fill="#505050"/>
<rect x="223" y="734.2" width="21.3" height="5.2" fill="#444"/>
<rect x="223" y="739.4" width="16" height="5" fill="#e6e6e6"/>
<rect x="228.7" y="696.1" width="5.1" height="7" fill="#d0d0d0"/>
<rect x="233.8" y="696.1" width="10.5" height="6.5" fill="#505050"/>
<rect x="228.7" y="658.4" width="5.1" height="7" fill="#d0d0d0"/>
<rect x="233.8" y="658.4" width="10.5" height="6.5" fill="#505050"/>
<rect x="228.7" y="620.7" width="5.1" height="7" fill="#d0d0d0"/>
<rect x="233.8" y="620.7" width="10.5" height="6.5" fill="#505050"/>
<rect x="223" y="583.4" width="21.3" height="5.2" fill="#444"/>
<rect x="223" y="588.6" width="16" height="5" fill="#e6e6e6"/>
<rect x="228.7" y="545.3" width="5.1" height="7" fill="#d0d0d0"/>
<rect x="233.8" y="545.3" width="10.5" height="6.5" fill="#505050"/>
<rect x="228.7" y="507.6" width="5.1" height="7" fill="#d0d0d0"/>
<rect x="233.8" y="507.6" width="10.5" height="6.5" fill="#505050"/>
<rect x="228.7" y="469.9" width="5.1" height="7" fill="#d0d0d0"/>
<rect x="233.8" y="469.9" width="10.5" height="6.5" fill="#505050"/>
<rect x="223" y="432.6" width="21.3" height="5.2" fill="#444"/>
<rect x="223" y="437.8" width="16" height="5" fill="#e6e6e6"/>
<rect x="228.7" y="394.5" width="5.1" height="7" fill="#d0d0d0"/>
<rect x="233.8" y="394.5" width="10.5" height="6.5" fill="#505050"/>
<rect x="228.7" y="356.7" width="5.1" height="7" fill="#d0d0d0"/>
<rect x="233.8" y="356.7" width="10.5" height="6.5" fill="#505050"/>
<rect x="228.7" y="319.0" width="5.1" height="7" fill="#d0d0d0"/>
<rect x="233.8" y="319.0" width="10.5" height="6.5" fill="#505050"/>
<rect x="223" y="281.7" width="21.3" height="5.2" fill="#444"/>
<rect x="223" y="286.9" width="16" height="5" fill="#e6e6e6"/>
<rect x="228.7" y="243.6" width="5.1" height="7" fill="#d0d0d0"/>
<rect x="233.8" y="243.6" width="10.5" height="6.5" fill="#505050"/>
<rect x="228.7" y="205.9" width="5.1" height="7" fill="#d0d0d0"/>
<rect x="233.8" y="205.9" width="10.5" height="6.5" fill="#505050"/>
<rect x="228.7" y="168.2" width="5.1" height="7" fill="#d0d0d0"/>
<rect x="233.8" y="168.2" width="10.5" height="6.5" fill="#505050"/>
<rect x="223" y="130.9" width="21.3" height="5.2" fill="#444"/>
<rect x="223" y="136.1" width="16" height="5" fill="#e6e6e6"/>
<rect x="228.7" y="92.8" width="5.1" height="7" fill="#d0d0d0"/>
<rect x="233.8" y="92.8" width="10.5" height="6.5" fill="#505050"/>
<rect x="228.7" y="55.1" width="5.1" height="7" fill="#d0d0d0"/>
<rect x="233.8" y="55.1" width="10.5" height="6.5" fill="#505050"/>
<rect x="2019.1" y="1441.3" width="5" height="6.5" fill="#303030"/>
<rect x="2024" y="1441.3" width="5.3" height="6.5" fill="#707070"/>
<rect x="2019.1" y="1394.1" width="5" height="6.5" fill="#303030"/>
<rect x="2024" y="1394.1" width="5.3" height="6.5" fill="#707070"/>
<rect x="2019.1" y="1347.0" width="5" height="6.5" fill="#303030"/>
<rect x="2024" y="1347.0" width="5.3" height="6.5" fill="#707070"/>
<rect x="2019.1" y="1300.0" width="5" height="6" fill="#333"/>
<rect x="2024" y="1300.0" width="16" height="6" fill="#5c5c5c"/>
<rect x="2019.1" y="1252.6" width="5" height="6.5" fill="#303030"/>
<rect x="2024" y="1252.6" width="5.3" height="6.5" fill="#707070"/>
<rect x="2019.1" y="1205.5" width="5" height="6.5" fill="#303030"/>
<rect x="2024" y="1205.5" width="5.3" height="6.5" fill="#707070"/>
<rect x="2019.1" y="1158.3" width="5" height="6.5" fill="#303030"/>
<rect x="2024" y="1158.3" width="5.3" height="6.5" fill="#707070"/>
<rect x="2019.1" y="1111.3" width="5" height="6" fill="#333"/>
<rect x="2024" y="1111.3" width="16" height="6" fill="#5c5c5c"/>
<rect x="2019.1" y="1063.9" width="5" height="6.5" fill="#303030"/>
<rect x="2024" y="1063.9" width="5.3" height="6.5" fill="#707070"/>
<rect x="2019.1" y="1016.8" width="5" height="6.5" fill="#303030"/>
<rect x="2024" y="1016.8" width="5.3" height="6.5" fill="#707070"/>
<rect x="2019.1" y="969.6" width="5" height="6.5" fill="#303030"/>
<rect x="2024" y="969.6" width="5.3" height="6.5" fill="#707070"/>
<rect x="2019.1" y="922.6" width="5" height="6" fill="#333"/>
<rect x="2024" y="922.6" width="16" height="6" fill="#5c5c5c"/>
<rect x="2019.1" y="875.2" width="5" height="6.5" fill="#303030"/>
<rect x="2024" y="875.2" width="5.3" height="6.5" fill="#707070"/>
<rect x="2019.1" y="828.0" width="5" height="6.5" fill="#303030"/>
<rect x="2024" y="828.0" width="5.3" height="6.5" fill="#707070"/>
<rect x="2019.1" y="780.9" width="5" height="6.5" fill="#303030"/>
<rect x="2024" y="780.9" width="5.3" height="6.5" fill="#707070"/>
<rect x="2019.1" y="733.9" width="5" height="6" fill="#333"/>
<rect x="2024" y="733.9" width="16" height="6" fill="#5c5c5c"/>
<rect x="2019.1" y="686.5" width="5" height="6.5" fill="#303030"/>
<rect x="2024" y="686.5" width="5.3" height="6.5" fill="#707070"/>
<rect x="2019.1" y="639.3" width="5" height="6.5" fill="#303030"/>
<rect x="2024" y="639.3" width="5.3" height="6.5" fill="#707070"/>
<rect x="2019.1" y="592.2" width="5" height="6.5" fill="#303030"/>
<rect x="2024" y="592.2" width="5.3" height="6.5" fill="#707070"/>
<rect x="2019.1" y="545.2" width="5" height="6" fill="#333"/>
<rect x="2024" y="545.2" width="16" height="6" fill="#5c5c5c"/>
<rect x="2019.1" y="497.8" width="5" height="6.5" fill="#303030"/>
<rect x="2024" y="497.8" width="5.3" height="6.5" fill="#707070"/>
<rect x="2019.1" y="450.7" width="5" height="6.5" fill="#303030"/>
<rect x="2024" y="450.7" width="5.3" height="6.5" fill="#707070"/>
<rect x="2019.1" y="403.5" width="5" height="6.5" fill="#303030"/>
<rect x="2024" y="403.5" width="5.3" height="6.5" fill="#707070"/>
<rect x="2019.1" y="356.5" width="5" height="6" fill="#333"/>
<rect x="2024" y="356.5" width="16" height="6" fill="#5c5c5c"/>
<rect x="2019.1" y="309.1" width="5" height="6.5" fill="#303030"/>
<rect x="2024" y="309.1" width="5.3" height="6.5" fill="#707070"/>
<rect x="2019.1" y="262.0" width="5" height="6.5" fill="#303030"/>
<rect x="2024" y="262.0" width="5.3" height="6.5" fill="#707070"/>
<rect x="2019.1" y="214.8" width="5" height="6.5" fill="#303030"/>
<rect x="2024" y="214.8" width="5.3" height="6.5" fill="#707070"/>
<rect x="2019.1" y="167.8" width="5" height="6" fill="#333"/>
<rect x="2024" y="167.8" width="16" height="6" fill="#5c5c5c"/>
<rect x="2019.1" y="120.4" width="5" height="6.5" fill="#303030"/>
<rect x="2024" y="120.4" width="5.3" height="6.5" fill="#707070"/>
<rect x="2019.1" y="73.2" width="5" height="6.5" fill="#303030"/>
<rect x="2024" y="73.2" width="5.3" height="6.5" fill="#707070"/>
<rect x="2019.1" y="26.1" width="5" height="6.5" fill="#303030"/>
<rect x="2024" y="26.1" width="5.3" height="6.5" fill="#707070"/>
<rect x="305.4" y="1494.4" width="5" height="5.4" fill="#333"/>
<rect x="305.4" y="1499.8" width="5" height="4.8" fill="#9a9a9a"/>
<rect x="368.8" y="1494.4" width="5" height="5.4" fill="#333"/>
<rect x="368.8" y="1499.8" width="5" height="4.8" fill="#9a9a9a"/>
<rect x="432.2" y="1494.4" width="5" height="5.4" fill="#333"/>
<rect x="432.2" y="1499.8" width="5" height="4.8" fill="#9a9a9a"/>
<rect x="493.0" y="1494.4" width="5.2" height="15.2" fill="#8c8c8c"/>
<rect x="498.2" y="1494.4" width="5.2" height="15.2" fill="#747474"/>
<rect x="559.1" y="1494.4" width="5" height="5.4" fill="#333"/>
<rect x="559.1" y="1499.8" width="5" height="4.8" fill="#9a9a9a"/>
<rect x="622.5" y="1494.4" width="5" height="5.4" fill="#333"/>
<rect x="622.5" y="1499.8" width="5" height="4.8" fill="#9a9a9a"/>
<rect x="685.9" y="1494.4" width="5" height="5.4" fill="#333"/>
<rect x="685.9" y="1499.8" width="5" height="4.8" fill="#9a9a9a"/>
<rect x="746.6" y="1494.4" width="5.2" height="15.2" fill="#8c8c8c"/>
<rect x="751.8" y="1494.4" width="5.2" height="15.2" fill="#747474"/>
<rect x="812.7" y="1494.4" width="5" height="5.4" fill="#333"/>
<rect x="812.7" y="1499.8" width="5" height="4.8" fill="#9a9a9a"/>
<rect x="876.1" y="1494.4" width="5" height="5.4" fill="#333"/>
<rect x="876.1" y="1499.8" width="5" height="4.8" fill="#9a9a9a"/>
<rect x="939.5" y="1494.4" width="5" height="5.4" fill="#333"/>
<rect x="939.5" y="1499.8" width="5" height="4.8" fill="#9a9a9a"/>
<rect x="1000.2" y="1494.4" width="5.2" height="15.2" fill="#8c8c8c"/>
<rect x="1005.5" y="1494.4" width="5.2" height="15.2" fill="#747474"/>
<rect x="1066.4" y="1494.4" width="5" height="5.4" fill="#333"/>
<rect x="1066.4" y="1499.8" width="5" height="4.8" fill="#9a9a9a"/>
<rect x="1129.8" y="1494.4" width="5" height="5.4" fill="#333"/>
<rect x="1129.8" y="1499.8" width="5" height="4.8" fill="#9a9a9a"/>
<rect x="1193.2" y="1494.4" width="5" height="5.4" fill="#333"/>
<rect x="1193.2" y="1499.8" width="5" height="4.8" fill="#9a9a9a"/>
<rect x="1253.9" y="1494.4" width="5.2" height="15.2" fill="#8c8c8c"/>
<rect x="1259.1" y="1494.4" width="5.2" height="15.2" fill="#747474"/>
<rect x="1320.0" y="1494.4" width="5" height="5.4" fill="#333"/>
<rect x="1320.0" y="1499.8" width="5" height="4.8" fill="#9a9a9a"/>
<rect x="1383.4" y="1494.4" width="5" height="5.4" fill="#333"/>
<rect x="1383.4" y="1499.8" width="5" height="4.8" fill="#9a9a9a"/>
<rect x="1446.8" y="1494.4" width="5" height="5.4" fill="#333"/>
<rect x="1446.8" y="1499.8" width="5" height="4.8" fill="#9a9a9a"/>
<rect x="1507.5" y="1494.4" width="5.2" height="15.2" fill="#8c8c8c"/>
<rect x="1512.8" y="1494.4" width="5.2" height="15.2" fill="#747474"/>
<rect x="1573.7" y="1494.4" width="5" height="5.4" fill="#333"/>
<rect x="1573.7" y="1499.8" width="5" height="4.8" fill="#9a9a9a"/>
<rect x="1637.1" y="1494.4" width="5" height="5.4" fill="#333"/>
<rect x="1637.1" y="1499.8" width="5" height="4.8" fill="#9a9a9a"/>
<rect x="1700.5" y="1494.4" width="5" height="5.4" fill="#333"/>
<rect x="1700.5" y="1499.8" width="5" height="4.8" fill="#9a9a9a"/>
<rect x="1761.2" y="1494.4" width="5.2" height="15.2" fill="#8c8c8c"/>
<rect x="1766.4" y="1494.4" width="5.2" height="15.2" fill="#747474"/>
<rect x="1827.3" y="1494.4" width="5" height="5.4" fill="#333"/>
<rect x="1827.3" y="1499.8" width="5" height="4.8" fill="#9a9a9a"/>
<rect x="1890.7" y="1494.4" width="5" height="5.4" fill="#333"/>
<rect x="1890.7" y="1499.8" width="5" height="4.8" fill="#9a9a9a"/>
<rect x="1954.1" y="1494.4" width="5" height="5.4" fill="#333"/>
<rect x="1954.1" y="1499.8" width="5" height="4.8" fill="#9a9a9a"/>
</g>
<g filter="url(#b)" fill="#444" stroke="#444" stroke-width="0.7" font-size="48">
<text transform="translate(208.0,1500.5) scale(1,1.15)" text-anchor="end">10</text>
<text transform="translate(208.0,1349.6) scale(1,1.15)" text-anchor="end">20</text>
<text transform="translate(208.0,1198.8) scale(1,1.15)" text-anchor="end">30</text>
<text transform="translate(208.0,1048.0) scale(1,1.15)" text-anchor="end">40</text>
<text transform="translate(208.0,897.1) scale(1,1.15)" text-anchor="end">50</text>
<text transform="translate(208.0,746.3) scale(1,1.15)" text-anchor="end">60</text>
<text transform="translate(208.0,595.5) scale(1,1.15)" text-anchor="end">70</text>
<text transform="translate(208.0,444.7) scale(1,1.15)" text-anchor="end">80</text>
<text transform="translate(208.0,293.8) scale(1,1.15)" text-anchor="end">90</text>
<text transform="translate(208.0,143.0) scale(1,1.15)" text-anchor="end">100</text>
<text transform="translate(2060.0,1501.2) scale(1,1.15)" text-anchor="start">-5</text>
<text transform="translate(2060.0,1312.5) scale(1,1.15)" text-anchor="start">0</text>
<text transform="translate(2060.0,1123.8) scale(1,1.15)" text-anchor="start">5</text>
<text transform="translate(2060.0,935.1) scale(1,1.15)" text-anchor="start">10</text>
<text transform="translate(2060.0,746.4) scale(1,1.15)" text-anchor="start">15</text>
<text transform="translate(2060.0,557.7) scale(1,1.15)" text-anchor="start">20</text>
<text transform="translate(2060.0,369.0) scale(1,1.15)" text-anchor="start">25</text>
<text transform="translate(2060.0,180.3) scale(1,1.15)" text-anchor="start">30</text>
<text transform="translate(244.5,1563.5) scale(1,1.15)" text-anchor="middle">0</text>
<text transform="translate(498.2,1563.5) scale(1,1.15)" text-anchor="middle">100</text>
<text transform="translate(751.8,1563.5) scale(1,1.15)" text-anchor="middle">200</text>
<text transform="translate(1005.5,1563.5) scale(1,1.15)" text-anchor="middle">300</text>
<text transform="translate(1259.1,1563.5) scale(1,1.15)" text-anchor="middle">400</text>
<text transform="translate(1512.8,1563.5) scale(1,1.15)" text-anchor="middle">500</text>
<text transform="translate(1766.4,1563.5) scale(1,1.15)" text-anchor="middle">600</text>
<text transform="translate(2020.1,1563.5) scale(1,1.15)" text-anchor="middle">700</text>
</g>
<g filter="url(#b2)">
<text transform="translate(1010,1631) scale(1,1.0)" font-size="64" text-anchor="middle" fill="#1a1018" stroke="#1a1018" stroke-width="0.4" textLength="571" lengthAdjust="spacingAndGlyphs">Temperature (°C)</text>
<text transform="translate(79.5,638.5) rotate(-90)" font-size="71" text-anchor="middle" fill="#1166f2">% Mass</text>
<text transform="translate(2168.5,671.5) rotate(90)" font-size="63.5" text-anchor="middle" fill="#ff1838">DTG (% / min)</text>
<rect x="1521" y="73" width="100" height="15.5" rx="3" fill="#0a5ce0"/>
<text transform="translate(1650,103.5) scale(1,1.05)" font-size="71" fill="#1166f2">% Mass</text>
<rect x="1521" y="189.5" width="100" height="15.5" rx="2" fill="#2a6ee0"/>
<rect x="1524.5" y="189.5" width="93" height="15.5" fill="#ff5a48"/>
<rect x="1521" y="193.5" width="100" height="7.5" fill="#ff5a48"/>
<text transform="translate(1724.5,209.5) scale(1.02,1.05)" font-size="63.5" fill="#ff1838">DTG</text>
</g>
</svg></body></html>
